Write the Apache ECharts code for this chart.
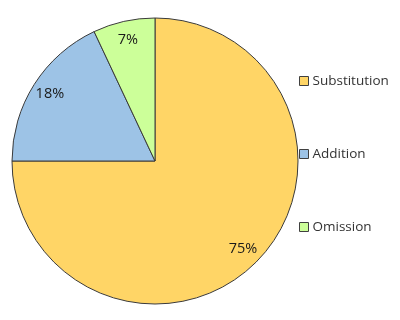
<!DOCTYPE html>
<html><head><meta charset="utf-8">
<script src="https://cdn.jsdelivr.net/npm/echarts@6/dist/echarts.min.js"></script>
<style>html,body{margin:0;padding:0;background:#fff}#c{width:400px;height:320px}</style>
</head><body><div id="c"></div>
<script>
const categories = ['Substitution', 'Addition', 'Omission'];
const values = [75, 18, 7];
const colors = ['#FFD566', '#9DC3E6', '#CCFF99'];

const chart = echarts.init(document.getElementById('c'));
const data = categories.map((n, i) => ({name: n, value: values[i], itemStyle: {color: colors[i]}}));
const labelData = categories.map((n, i) => ({name: n, value: values[i]}));
chart.setOption({
  animation: false,
  legend: {
    orient: 'vertical', left: 294, top: 68, itemGap: 57,
    itemWidth: 9, itemHeight: 9, icon: 'rect',
    itemStyle: {borderColor: '#404040', borderWidth: 1},
    textStyle: {fontFamily: 'Open Sans', fontSize: 13.5, color: '#333', lineHeight: 16, padding: [0,0,0,-1]},
    data: categories
  },
  series: [{
    type: 'pie', center: [155, 161], radius: [0, 143], startAngle: 90, clockwise: true,
    data: data, label: {show: false}, labelLine: {show: false},
    itemStyle: {borderColor: '#3a3a3a', borderWidth: 1}, silent: true
  }, {
    type: 'pie', center: [155, 161], radius: [100, 143], startAngle: 90, clockwise: true,
    data: labelData, silent: true,
    itemStyle: {color: 'rgba(0,0,0,0)', borderWidth: 0},
    label: {show: true, position: 'inside', formatter: '{c}%', fontFamily: 'Open Sans', fontSize: 14.5, color: '#1a1a1a'},
    labelLine: {show: false}
  }]
});
</script></body></html>
